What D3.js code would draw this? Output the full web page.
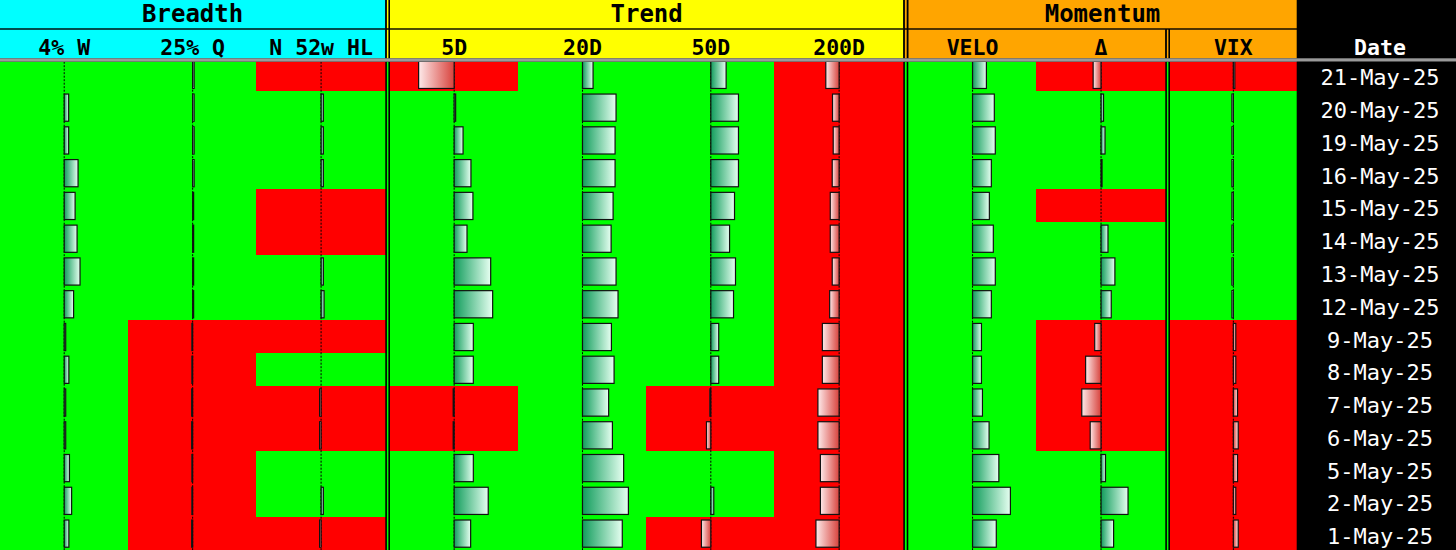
<!DOCTYPE html>
<html><head><meta charset="utf-8">
<script src="https://cdn.jsdelivr.net/npm/d3@7"></script>
<style>html,body{margin:0;padding:0;background:#000;overflow:hidden}</style>
</head><body><svg id="chart" width="1456" height="550"></svg>
<script>
// ---------------- DATA ----------------
const dates = ["21-May-25","20-May-25","19-May-25","16-May-25","15-May-25","14-May-25","13-May-25","12-May-25","9-May-25","8-May-25","7-May-25","6-May-25","5-May-25","2-May-25","1-May-25"];
const groups = ["Breadth","Trend","Momentum"];
const columns = ["4% W","25% Q","N 52w HL","5D","20D","50D","200D","VELO","Δ","VIX"];
const columnGroups = ["Breadth","Breadth","Breadth","Trend","Trend","Trend","Trend","Momentum","Momentum","Momentum"];
const invertedColumns = ["VIX"];

// cell signal: 1 = bullish (green), 0 = bearish (red)
const w4Signal    = [1,1,1,1,1,1,1,1,1,1,1,1,1,1,1];
const q25Signal   = [1,1,1,1,1,1,1,1,0,0,0,0,0,0,0];
const hl52Signal  = [0,1,1,1,0,0,1,1,0,1,0,0,1,1,0];
const d5Signal    = [0,1,1,1,1,1,1,1,1,1,0,0,1,1,1];
const d20Signal   = [1,1,1,1,1,1,1,1,1,1,1,1,1,1,1];
const d50Signal   = [1,1,1,1,1,1,1,1,1,1,0,0,1,1,0];
const d200Signal  = [0,0,0,0,0,0,0,0,0,0,0,0,0,0,0];
const veloSignal  = [1,1,1,1,1,1,1,1,1,1,1,1,1,1,1];
const deltaSignal = [0,1,1,1,0,1,1,1,0,0,0,0,1,1,1];
const vixSignal   = [0,1,1,1,1,1,1,1,0,0,0,0,0,0,0];

// bar values (scaled readings, domain -65..65)
const w4Values    = [0,4.5,4.5,14,11,13,16,9.5,1.5,4.7,1.5,1.5,5.3,7.5,4.7];
const q25Values   = [1.5,1.5,1.5,1.5,1,1,1,1,-0.8,-0.8,-1,-1,-0.8,-0.8,-1];
const hl52Values  = [0,2.3,2.3,2.3,0,0,2.3,3,0,0,-1.5,-1.5,0,2.3,-1.5];
const d5Values    = [-36,1.5,9,17,19,13,37,39,19.4,19.4,-1,-1,19.4,34.5,16.7];
const d20Values   = [10.7,34,33,33,31,29,34,36,29.3,32,26.5,30.3,41.7,46.5,40.3];
const d50Values   = [15.5,28,28,28,24,19,25,23,8,8,-1,-4.4,0,3,-9.5];
const d200Values  = [-13.5,-6.7,-6,-7,-9,-9,-7,-9.6,-17,-17,-21.5,-21.5,-19,-19,-23.5];
const veloValues  = [14,22,23,19,17,21,23,19,9,9,10,16.7,26.6,38.3,24];
const deltaValues = [-8,2.5,4,1,0,7,14,10.3,-6.4,-15.6,-19.5,-11,4.5,27.3,12.7];
const vixValues   = [1.5,-1.5,-1.5,-1.5,-1.5,-1.5,-1.5,-1.5,2.5,2.5,4.3,5,4.3,2.5,5];
const valueDomain = [-65, 65];

const signals = [w4Signal,q25Signal,hl52Signal,d5Signal,d20Signal,d50Signal,d200Signal,veloSignal,deltaSignal,vixSignal];
const values  = [w4Values,q25Values,hl52Values,d5Values,d20Values,d50Values,d200Values,veloValues,deltaValues,vixValues];

// ---------------- LAYOUT ----------------
const W = 1456, H = 550;
const blocks = [
  {cols: columns.slice(0,3), x0: 0,     x1: 385.3},
  {cols: columns.slice(3,7), x0: 390,   x1: 903.3},
  {cols: columns.slice(7,9), x0: 908.3, x1: 1165.3},
  {cols: columns.slice(9,10),x0: 1170,  x1: 1296.7}
];
const groupBoxes = {Breadth:[0,385.3], Trend:[390,903.3], Momentum:[908.3,1296.7]};
const groupColor = {Breadth:"#00ffff", Trend:"#ffff00", Momentum:"#ffa500"};
const GREEN = "#00ff00", RED = "#ff0000";
const head1 = [0, 28.3], head2 = [29.7, 58.3], grayLine = [58.3, 61.7];
const dateX0 = 1296.7, dateCenter = 1380;
const FONT = "'DejaVu Sans Mono', 'Liberation Mono', monospace";

const colBand = {};
blocks.forEach(b => {
  const s = d3.scaleBand().domain(b.cols).range([b.x0, b.x1]);
  b.cols.forEach(c => colBand[c] = s);
});
const y = d3.scaleBand().domain(dates).range([58.5, 550]);

const svg = d3.select("#chart");
svg.append("rect").attr("width", W).attr("height", H).attr("fill", "#000");

// gradients
const defs = svg.append("defs");
function grad(id, c1, c2) {
  const g = defs.append("linearGradient").attr("id", id).attr("x1","0").attr("x2","1").attr("y1","0").attr("y2","0");
  g.append("stop").attr("offset","0").attr("stop-color", c1);
  g.append("stop").attr("offset","1").attr("stop-color", c2);
}
const gDark = "#119d5c", gLight = "#e6fff1", rDark = "#d8423c", rLight = "#fdeaea";
grad("greenPos", gDark, gLight);
grad("greenNeg", gLight, gDark);
grad("redPos", rDark, rLight);
grad("redNeg", rLight, rDark);

const dataTop = grayLine[1];

// backgrounds first (all columns), crisp to avoid seams
columns.forEach((col, ci) => {
  const band = colBand[col];
  const cx0 = band(col), cw = band.bandwidth();
  svg.append("g").attr("shape-rendering", "crispEdges")
    .selectAll("rect").data(dates).join("rect")
    .attr("x", cx0 - 0.5).attr("width", cw + 1)
    .attr("y", d => y(d) - 0.5).attr("height", y.bandwidth() + 1)
    .attr("fill", (d, i) => signals[ci][i] ? GREEN : RED);
});

columns.forEach((col, ci) => {
  const band = colBand[col];
  const cx0 = band(col), cw = band.bandwidth();
  const xs = d3.scaleLinear().domain(valueDomain).range([cx0, cx0 + cw]);
  const inv = invertedColumns.includes(col);
  const g = svg.append("g").attr("class", "col");
  // zero line
  g.append("line").attr("x1", xs(0)).attr("x2", xs(0)).attr("y1", dataTop).attr("y2", H)
    .attr("stroke", "#000").attr("stroke-width", 1).attr("stroke-dasharray", "2,1.5");
  // bars
  const rows = dates.map((d, i) => ({d, v: values[ci][i]})).filter(r => r.v !== 0);
  g.selectAll("rect.bar").data(rows).join("rect").attr("class","bar")
    .attr("x", r => Math.min(xs(0), xs(r.v)))
    .attr("width", r => Math.abs(xs(r.v) - xs(0)))
    .attr("y", r => y(r.d) + y.bandwidth() * 0.085)
    .attr("height", y.bandwidth() * 0.83)
    .attr("fill", r => {
      const good = inv ? r.v < 0 : r.v >= 0;
      return `url(#${good ? "green" : "red"}${r.v >= 0 ? "Pos" : "Neg"})`;
    })
    .attr("stroke", "#111").attr("stroke-width", 1.2);
});

// separators
function separator(x0, x1, yA, yB, inner) {
  svg.append("rect").attr("x", x0).attr("y", yA).attr("width", x1 - x0).attr("height", yB - yA).attr("fill", "#000");
  svg.append("rect").attr("x", x0 + 1.6).attr("y", yA).attr("width", x1 - x0 - 3.2).attr("height", yB - yA).attr("fill", inner);
}
for (let i = 0; i < blocks.length - 1; i++) separator(blocks[i].x1, blocks[i+1].x0, dataTop, H, GREEN);

// header
svg.append("rect").attr("x", 0).attr("y", 0).attr("width", W).attr("height", dataTop).attr("fill", "#000");
groups.forEach(gname => {
  const [a, b] = groupBoxes[gname];
  svg.append("rect").attr("x", a).attr("y", head1[0]).attr("width", b - a).attr("height", head1[1] - head1[0]).attr("fill", groupColor[gname]);
  svg.append("text").attr("x", (a + b) / 2).attr("y", 21.7).attr("text-anchor", "middle")
    .attr("font-family", FONT).attr("font-weight", "bold").attr("font-size", 24).attr("fill", "#000").text(gname);
});
blocks.forEach(b => {
  const gname = columnGroups[columns.indexOf(b.cols[0])];
  svg.append("rect").attr("x", b.x0).attr("y", head2[0]).attr("width", b.x1 - b.x0).attr("height", head2[1] - head2[0]).attr("fill", groupColor[gname]);
  b.cols.forEach(c => {
    const s = colBand[c];
    svg.append("text").attr("x", s(c) + s.bandwidth() / 2).attr("y", 55).attr("text-anchor", "middle")
      .attr("font-family", FONT).attr("font-weight", "bold").attr("font-size", 21.5).attr("fill", "#000").text(c);
  });
});
separator(385.3, 390, 0, head1[1], groupColor.Trend);
separator(903.3, 908.3, 0, head1[1], groupColor.Momentum);
separator(385.3, 390, head2[0], head2[1], groupColor.Trend);
separator(903.3, 908.3, head2[0], head2[1], groupColor.Momentum);
separator(1165.3, 1170, head2[0], head2[1], groupColor.Momentum);

// gray line
svg.append("rect").attr("x", 0).attr("y", grayLine[0]).attr("width", W).attr("height", grayLine[1] - grayLine[0]).attr("fill", "#9a9a9a");

// date column
svg.append("rect").attr("x", dateX0).attr("y", dataTop).attr("width", W - dateX0).attr("height", H - dataTop).attr("fill", "#000");
svg.append("text").attr("x", dateCenter).attr("y", 55).attr("text-anchor", "middle")
  .attr("font-family", FONT).attr("font-weight", "bold").attr("font-size", 21.5).attr("fill", "#fff").text("Date");
svg.selectAll("text.date").data(dates).join("text").attr("class", "date")
  .attr("x", dateCenter).attr("y", d => y(d) + y.bandwidth() / 2 + 10.5)
  .attr("text-anchor", "middle").attr("font-family", FONT).attr("font-size", 22).attr("fill", "#fff").text(d => d);
</script></body></html>
